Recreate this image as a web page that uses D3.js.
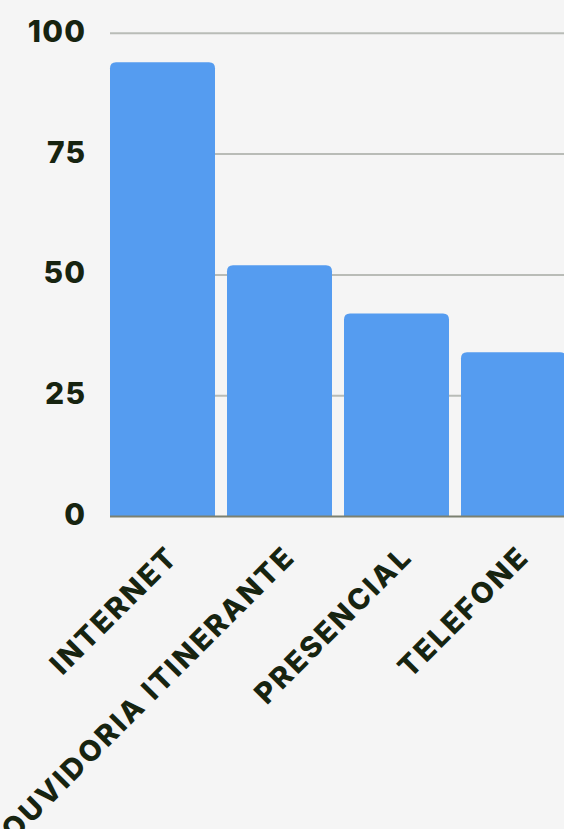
<!DOCTYPE html>
<html>
<head>
<meta charset="utf-8">
<script src="https://cdn.jsdelivr.net/npm/d3@7"></script>
<style>
  html, body { margin: 0; padding: 0; background: #f5f5f5; }
  svg { display: block; }
</style>
</head>
<body>
<svg width="564" height="829"></svg>
<script>
const categories = ['INTERNET', 'OUVIDORIA ITINERANTE', 'PRESENCIAL', 'TELEFONE'];
const values = [94, 52, 42, 34];
const yTicks = [0, 25, 50, 75, 100];

const FONT = 'Inter, "DejaVu Sans", sans-serif';
const TEXT_COLOR = '#172410';
const BAR_COLOR = '#559cf0';
const RADIUS = 6;
const X_SPACING = 2.5;
const Y_SPACING = 1.2;

const svg = d3.select('svg');

const x = d3.scaleBand()
  .domain(categories)
  .range([104, 572])
  .paddingInner(12 / 117)
  .paddingOuter(6 / 117);

const y = d3.scaleLinear()
  .domain([0, 100])
  .range([516.5, 33.3]);

// gridlines
svg.append('g')
  .attr('class', 'grid')
  .selectAll('line')
  .data(yTicks.filter(d => d > 0))
  .join('line')
  .attr('x1', 110)
  .attr('x2', 564)
  .attr('y1', d => y(d))
  .attr('y2', d => y(d))
  .attr('stroke', '#b9bcb7')
  .attr('stroke-width', 2);

// bars with rounded tops
const barPath = d => {
  const x0 = x(d.cat), w = x.bandwidth(), y0 = y(d.val), yb = y(0), r = RADIUS;
  return `M${x0},${yb} V${y0 + r} Q${x0},${y0} ${x0 + r},${y0} H${x0 + w - r} Q${x0 + w},${y0} ${x0 + w},${y0 + r} V${yb} Z`;
};

svg.append('g')
  .selectAll('path')
  .data(categories.map((c, i) => ({cat: c, val: values[i]})))
  .join('path')
  .attr('d', barPath)
  .attr('fill', BAR_COLOR);

// baseline
svg.append('line')
  .attr('x1', 110)
  .attr('x2', 564)
  .attr('y1', y(0))
  .attr('y2', y(0))
  .attr('stroke', '#7b8070')
  .attr('stroke-width', 2);

// y labels
svg.append('g')
  .selectAll('text')
  .data(yTicks)
  .join('text')
  .attr('x', 85 + Y_SPACING)
  .attr('y', d => y(d) + 8.5)
  .attr('text-anchor', 'end')
  .attr('font-family', FONT)
  .attr('font-weight', 800)
  .attr('font-size', 30)
  .attr('letter-spacing', Y_SPACING)
  .attr('fill', TEXT_COLOR)
  .text(d => d);

// x labels, rotated
svg.append('g')
  .selectAll('text')
  .data(categories)
  .join('text')
  .attr('transform', d => `translate(${x(d) + x.bandwidth() / 2 + 17.5},558.5) rotate(-45)`)
  .attr('text-anchor', 'end')
  .attr('font-family', FONT)
  .attr('font-weight', 800)
  .attr('font-size', 29)
  .attr('letter-spacing', X_SPACING)
  .attr('fill', TEXT_COLOR)
  .text(d => d);
</script>
</body>
</html>
